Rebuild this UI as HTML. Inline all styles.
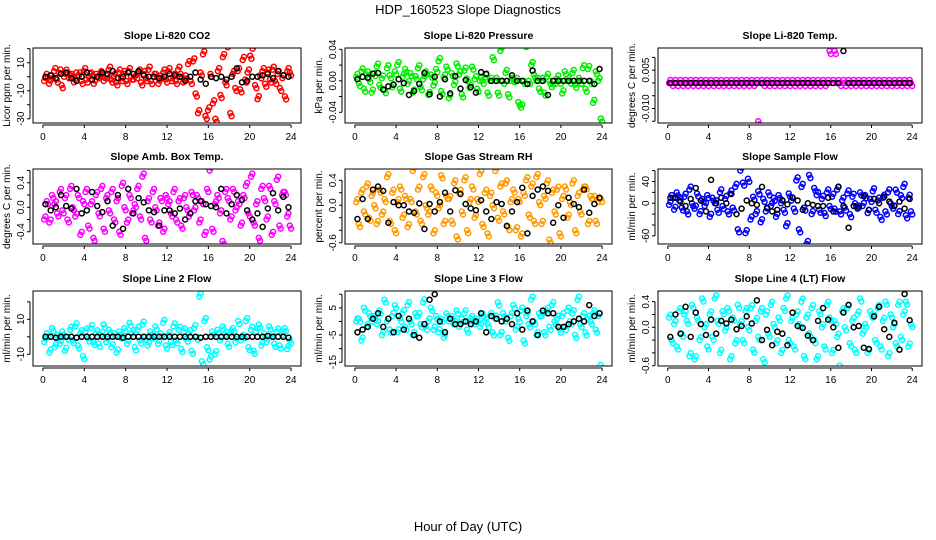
<!DOCTYPE html>
<html><head><meta charset="utf-8"><style>
html,body{margin:0;padding:0;background:#fff;}
svg{display:block;font-family:"Liberation Sans",Arial,sans-serif;}
</style></head><body>
<svg id="chart" width="936" height="540" viewBox="0 0 936 540">
<text x="468" y="14" text-anchor="middle" font-size="13">HDP_160523  Slope Diagnostics</text>
<text x="468" y="531" text-anchor="middle" font-size="13">Hour of Day (UTC)</text>
</svg>
<script>
const xTicks = [0,4,8,12,16,20,24];
const co2Vals = [-3,2,-5,1,4,-2,3,-6,0,5,-1,2,-4,3,1,-3,4,-2,0,3,-5,2,-1,4,-3,1,5,-2,0,-4,3,-1,2,-3,4,0,-2,1,3,-4,2,-1,5,-3,0,2,-5,1,3,-2,4,-1,0,-3,5,2,-4,1,9,-3,11,-12,-26,3,16,-28,-24,2,-19,-30,4,-13,14,-4,21,-26,2,-8,4,-9,12,-2,3,15,20,-6,-16,1,4,-5,3,-2,5,-3,2,-8,-1,-14,4,3];
const co2Black = [0,1,-1,2,3,-1,-3,0,3,-2,0,3,2,4,-1,0,3,2,4,1,0,0,-1,0,2,1,0,-3,0,3,-2,-5,0,-1,0,-2,0,6,-4,-3,0,0,1,2,-1,4,1,0];
const presVals = [0.005,-0.003,0.012,-0.01,0.008,0.002,-0.015,0.01,0.018,-0.005,0.003,-0.012,0.016,0.007,-0.008,0.012,0.02,-0.01,0.005,0.015,-0.004,0.01,-0.015,0.006,0.016,-0.008,0.002,0.012,-0.018,0.008,-0.006,0.015,0.025,-0.013,0.004,0.018,-0.022,0.01,-0.005,0.022,0.008,-0.017,0.013,0.003,-0.009,0.018,0.002,-0.01,0,0,0.004,-0.015,0,0.03,0,-0.015,0.038,0,0.01,-0.017,0,0.002,0,-0.027,-0.034,0,0.043,0,0.02,0.008,0,-0.01,0,-0.015,0.005,0,-0.008,0,0.003,0,-0.016,0.012,0,0,0.01,-0.005,0,0,0.016,-0.01,0.015,0,-0.028,0.012,0,-0.048];
const presBlack = [0.002,0.005,0.004,0.009,0.01,-0.011,-0.007,-0.005,0.002,-0.003,-0.018,-0.013,-0.004,0.01,-0.017,0.005,-0.02,0.002,-0.016,0.006,-0.01,0.001,-0.008,-0.015,0.011,0.009,0,0,0,0,0.007,0,0,-0.004,0.013,0,0,-0.018,0,0,0,0,0,0,0,0,-0.004,0.015];
const tempVals = [0,0,0,0,0,0,0,0,0,0,0,0,0,0,0,0,0,0,0,0,0,0,0,0,0,0,0,0,0,0,0,0,0,0,0,-0.015,0,0,0,0,0,0,0,0,0,0,0,0,0,0,0,0,0,0,0,0,0,0,0,0,0,0,0,0.0125,0,0.0125,0,0,0,0,0,0,0,0,0,0,0,0,0,0,0,0,0,0,0,0,0,0,0,0,0,0,0,0,0,0];
const tempBlack = [0,0,0,0,0,0,0,0,0,0,0,0,0,0,0,0,0,0,0,0,0,0,0,0,0,0,0,0,0,0,0,0,0,0,0.0125,0,0,0,0,0,0,0,0,0,0,0,0,0];
const ambVals = [-0.2,0.1,-0.25,0.2,0.05,-0.1,0.25,-0.05,0.15,-0.2,0.3,0,-0.15,0.2,-0.45,0.1,0.25,-0.3,0.05,-0.5,0.2,-0.1,0.3,-0.35,0.15,-0.05,0.25,-0.2,0.1,-0.4,0.35,0,-0.25,0.2,-0.1,0.05,0.3,-0.15,0.5,-0.5,0.1,-0.2,0.25,0,-0.3,0.15,-0.4,0.2,0.05,-0.1,0.25,-0.2,0.1,-0.3,0.15,0,-0.15,0.25,-0.05,0.2,-0.25,0.1,-0.45,0.3,0.6,-0.35,0.05,0.2,-0.1,-0.55,0.25,0.15,-0.2,0.3,-0.05,0.1,-0.3,0.2,0.35,-0.1,0.5,-0.25,0.05,-0.5,0.3,0.15,-0.2,0.35,-0.45,0.1,0.45,-0.3,0.2,0.25,-0.15,-0.3];
const ambBlack = [0.05,-0.05,0,0.2,0.02,-0.02,0.3,-0.1,-0.05,0.25,0.02,-0.08,0.1,-0.3,0.2,-0.35,0.3,-0.1,0.15,0.08,-0.05,-0.08,-0.3,-0.05,-0.05,-0.1,-0.02,-0.2,-0.1,0.1,0.1,0.05,0.02,0,0.3,-0.1,0.05,0.2,0.12,-0.05,-0.2,-0.1,-0.32,-0.02,0.23,-0.05,0.17,0];
const rhVals = [0.05,-0.3,0.2,-0.1,0.3,-0.2,0.15,0,-0.3,0.25,-0.15,0.1,0.45,-0.25,0.2,-0.4,0.05,0.3,-0.2,0.15,-0.35,0.1,0.55,-0.1,0.25,-0.25,0.45,0,-0.15,0.3,-0.45,0.2,-0.05,0.48,-0.3,0.15,0.1,-0.25,0.35,-0.5,0.2,-0.1,0.4,-0.4,0.05,0.3,-0.2,0.1,0.5,-0.3,0.2,-0.45,0.15,0,0.55,-0.2,0.3,-0.1,0.35,-0.35,0.05,0.25,-0.4,0.1,-0.5,0.2,0.4,-0.15,0.3,-0.25,0.45,0.05,-0.3,0.15,0.35,-0.55,0.2,-0.1,0.25,-0.45,0.1,0.3,-0.2,0.05,0.35,-0.4,0.15,-0.1,0.25,0.3,-0.3,0.15,0.1,-0.25,0.05,0.1];
const rhBlack = [-0.22,0.1,-0.22,0.25,0.3,0.23,-0.28,0.05,0,0,-0.1,-0.12,0.03,-0.38,0.02,-0.1,0.05,0.2,-0.1,0.24,0.18,0.02,-0.05,-0.08,0.08,-0.1,-0.22,0.05,0.02,-0.33,-0.1,0.05,0.28,-0.45,0.15,0.25,0.3,0.23,-0.28,0,-0.2,0.12,0.02,-0.03,0.25,-0.12,0.02,0.12];
const flowVals = [-3,15,-12,20,5,-8,12,-15,25,0,-10,18,-20,8,-5,15,-25,10,0,-12,20,-5,8,-15,18,-8,30,-48,60,38,-55,45,-30,12,-20,22,-35,8,-15,20,-5,10,-25,15,0,-12,-42,18,5,-10,42,-48,30,-8,-75,52,-20,28,15,-12,8,-18,20,-5,12,-10,25,-15,5,-8,18,-20,12,0,-10,20,-5,15,-18,8,22,-12,5,-25,10,-15,20,0,-10,25,-20,15,30,-22,10,-15];
const flowBlack = [10,10,3,-5,8,28,5,-15,43,0,10,0,17,-20,-10,5,0,-3,30,-8,-15,-12,5,-2,10,5,-12,0,-3,-5,-5,10,-15,30,-5,-45,-5,-8,13,-12,8,0,12,3,-5,3,-10,8];
const line2Vals = [-3,2,-9,5,-6,1,-4,3,-8,0,4,-2,6,-5,2,-11,3,-1,5,-3,2,-4,1,7,-3,4,-6,2,-9,3,-1,5,-4,8,2,-6,4,-2,7,0,-5,3,-1,6,-4,2,8,-5,1,-3,6,-2,4,-7,3,-1,2,-8,5,0,23,-14,9,-6,-13,3,-10,4,-2,6,1,-4,2,5,-3,9,-2,1,9,-6,4,-8,3,7,-5,2,-3,6,0,-4,3,-5,1,5,-7,-2];
const line2Black = [0,0,-0.5,0,0,0,-0.5,0,0,0,0,0,0,0,0,-0.5,0,0,0,0,0,0,0,0,0,0,0,0,0,0,-0.5,0,0,0,0,0,0,0,0,0,0,0,0,0.5,0,0,0,-0.5];
const line3Vals = [0,1,-7,5,-2,3,0,2,-1,4,-5,8,0,-3,2,6,-4,1,3,-2,6,0,-5,3,2,-1,7,-2,0,5,-3,2,-4,1,-6,3,0,2,-1,4,-2,1,3,-3,0,2,-1,1,-2,3,0,-1,2,-4,1,7,-5,3,0,-6,2,6,-3,1,4,-7,2,-1,8,0,-5,3,2,-4,4,-2,6,0,1,-3,2,-2,4,0,3,-5,8,-1,2,-4,1,0,3,-3,2,-16];
const line3Black = [-4,-3,-2,1,3,-2,1,-4,2,-3,1,-5,-6,-1,8,10,0,-4,1,-1,-1,0,-1,0,3,-4,2,1,0,1,-1,3,-3,4,0,-5,4,3,3,-2,-2,-1,0,1,0,6,2,3];
const line4Vals = [0.15,-0.2,0.05,-0.3,0.25,-0.1,0.2,0.1,-0.45,0.35,-0.5,0.15,-0.2,0.45,0,-0.3,0.2,-0.15,0.45,0.1,-0.4,0.25,-0.05,0.3,-0.5,0.15,-0.25,0.35,0.05,-0.2,0.25,0,0.3,-0.35,0.1,-0.15,0.25,-0.5,0.2,-0.1,0.35,0.05,-0.25,0.15,-0.4,0.3,0.45,-0.2,0.1,-0.3,0.2,0.05,0.4,-0.45,0.15,-0.1,0.3,-0.2,-0.5,0.25,0,-0.3,0.35,0.15,-0.4,0.1,-0.15,-0.6,0.25,0,0.3,-0.25,0.1,-0.35,0.2,0.45,-0.1,0.05,-0.4,0.25,0.15,-0.2,0.3,-0.3,0.1,0.4,-0.45,0.2,0,-0.25,0.35,-0.15,0.2,0.4,-0.3,0.05];
const line4Black = [-0.15,0.2,-0.1,0.32,-0.15,0.23,0.05,-0.12,0.12,-0.1,0.1,0.06,0.12,-0.03,0.02,0.17,0.06,0.42,-0.2,-0.04,-0.28,-0.07,-0.1,-0.28,0.23,0.02,-0.01,-0.13,-0.2,0.1,0.3,0.12,0,-0.32,0.23,0.35,0,0.02,-0.32,-0.34,0.17,0.32,-0.03,-0.15,0.07,-0.35,0.52,0.11];

const panels = [
 {key:'co2',col:0,row:0,title:'Slope Li-820 CO2',ylab:'Licor ppm per min.',ylim:[-33,20.5],ticks:[-30,-20,-10,0,10,20],labels:[-30,-10,10],color:'#ff0000',vals:co2Vals,black:co2Black,fmt:v=>String(v)},
 {key:'pressure',col:1,row:0,title:'Slope Li-820 Pressure',ylab:'kPa per min.',ylim:[-0.0536,0.0417],ticks:[-0.04,-0.02,0,0.02,0.04],labels:[-0.04,0,0.04],color:'#00ee00',vals:presVals,black:presBlack,fmt:v=>v.toFixed(2)},
 {key:'temp',col:2,row:0,title:'Slope Li-820 Temp.',ylab:'degrees C per min.',ylim:[-0.01567,0.01367],ticks:[-0.015,-0.01,-0.005,0,0.005,0.01],labels:[-0.01,0.005],color:'#ff00ff',vals:tempVals,black:tempBlack,fmt:v=>v.toFixed(3)},
 {key:'amb',col:0,row:1,title:'Slope Amb. Box Temp.',ylab:'degrees C per min.',ylim:[-0.6,0.625],ticks:[-0.4,-0.2,0,0.2,0.4,0.6],labels:[-0.4,0,0.4],color:'#ff00ff',vals:ambVals,black:ambBlack,fmt:v=>v.toFixed(1)},
 {key:'rh',col:1,row:1,title:'Slope Gas Stream RH',ylab:'percent per min.',ylim:[-0.62,0.58],ticks:[-0.6,-0.4,-0.2,0,0.2,0.4],labels:[-0.6,0,0.4],color:'#ff9900',vals:rhVals,black:rhBlack,fmt:v=>v.toFixed(1)},
 {key:'flow',col:2,row:1,title:'Slope Sample Flow',ylab:'ml/min per min.',ylim:[-75,63],ticks:[-60,-40,-20,0,20,40,60],labels:[-60,0,40],color:'#0000ff',vals:flowVals,black:flowBlack,fmt:v=>String(v)},
 {key:'line2',col:0,row:2,title:'Slope Line 2 Flow',ylab:'ml/min per min.',ylim:[-16.7,26.2],ticks:[-10,0,10,20],labels:[-10,10],color:'#00ffff',vals:line2Vals,black:line2Black,fmt:v=>String(v)},
 {key:'line3',col:1,row:2,title:'Slope Line 3 Flow',ylab:'ml/min per min.',ylim:[-16.4,11.2],ticks:[-15,-10,-5,0,5,10],labels:[-15,-5,5],color:'#00ffff',vals:line3Vals,black:line3Black,fmt:v=>String(v)},
 {key:'line4',col:2,row:2,title:'Slope Line 4 (LT) Flow',ylab:'ml/min per min.',ylim:[-0.605,0.567],ticks:[-0.6,-0.4,-0.2,0,0.2,0.4],labels:[-0.6,0,0.4],color:'#00ffff',vals:line4Vals,black:line4Black,fmt:v=>v.toFixed(1)}
];

const NS='http://www.w3.org/2000/svg';
const svg=document.getElementById('chart');
const colLeft=[33,345,658], colW=[268,267,264];
const rowTop=[48,169,291], boxH=75;
function mk(tag,attrs,parent){const e=document.createElementNS(NS,tag);for(const k in attrs)e.setAttribute(k,attrs[k]);parent.appendChild(e);return e;}

panels.forEach(p=>{
  const L=colLeft[p.col], W=colW[p.col], T=rowTop[p.row], B=T+boxH;
  const xs=h=>L+W*(h+0.96)/25.92;
  const ys=v=>B-boxH*(v-p.ylim[0])/(p.ylim[1]-p.ylim[0]);
  const g=mk('g',{},svg);
  
  
  const t=mk('text',{x:L+W/2,y:T-9,'text-anchor':'middle','font-size':'10.5','font-weight':'bold'},g);
  t.textContent=p.title;
  
  
  const clip=mk('clipPath',{id:'c'+p.key},g); mk('rect',{x:L,y:T,width:W,height:boxH},clip);
  const pts=mk('g',{'clip-path':'url(#c'+p.key+')',fill:'none','stroke-width':'1.5'},g);
  
  
  p.vals.forEach((v,i)=>{
    const cx=xs((i+0.5)*24/p.vals.length), cy=ys(v);
    const c=mk('circle',{cx:cx,cy:cy,r:2.5,stroke:p.color},pts);
    
    
    const c2=mk('circle',{cx:cx+1.3,cy:cy+(i%2?3:-3),r:2.5,stroke:p.color},pts);
    
    
  });
  p.black.forEach((v,i)=>{
    const c=mk('circle',{cx:xs((i+0.5)*24/p.black.length),cy:ys(v),r:2.5,stroke:'#000'},pts);
    
    
  });
  const box=mk('rect',{x:L,y:T,width:W,height:boxH,fill:'none',stroke:'#000','stroke-width':'1'},g);
  
  
  const xa=mk('g',{'font-size':'10','text-anchor':'middle'},g);
  
  
  mk('line',{x1:xs(0),x2:xs(24),y1:B+2,y2:B+2,stroke:'#000'},xa);
  xTicks.forEach(h=>{
    mk('line',{x1:xs(h),x2:xs(h),y1:B+2,y2:B+5,stroke:'#000'},xa);
    const tl=mk('text',{x:xs(h),y:B+17},xa); tl.textContent=h;
  });
  const ya=mk('g',{'font-size':'10','text-anchor':'middle'},g);
  
  
  const tks=p.ticks.filter(v=>ys(v)>=T-3&&ys(v)<=B+3);
  mk('line',{x1:L-3,x2:L-3,y1:ys(tks[0]),y2:ys(tks[tks.length-1]),stroke:'#000'},ya);
  tks.forEach(v=>mk('line',{x1:L-6,x2:L-3,y1:ys(v),y2:ys(v),stroke:'#000'},ya));
  p.labels.forEach(v=>{
    const x=L-9,y=ys(v);
    const tl=mk('text',{x:x,y:y,transform:`rotate(-90 ${x} ${y})`},ya);
    tl.textContent=p.fmt(v);
  });
  const yl=mk('text',{x:L-23,y:T+boxH/2,'text-anchor':'middle','font-size':'10',transform:`rotate(-90 ${L-23} ${T+boxH/2})`},g);
  yl.textContent=p.ylab;
  
  
});
</script>
</body></html>
